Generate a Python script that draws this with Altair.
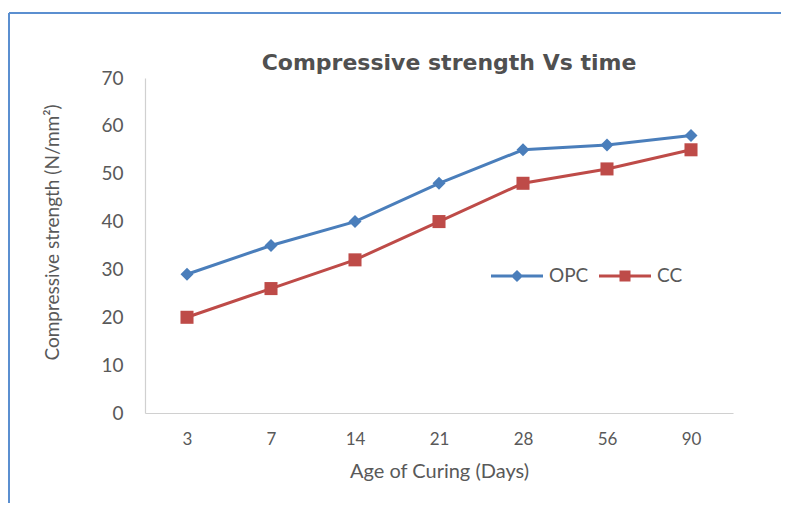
import altair as alt
import pandas as pd

days = ["3", "7", "14", "21", "28", "56", "90"]
opc = [29, 35, 40, 48, 55, 56, 58]
cc = [20, 26, 32, 40, 48, 51, 55]
series_names = ["OPC", "CC"]
colors = ["#4A7EBB", "#BE4B48"]
y_ticks = [0, 10, 20, 30, 40, 50, 60, 70]

rows = []
for d, a, b in zip(days, opc, cc):
    rows.append({"day": d, "series": "OPC", "value": a})
    rows.append({"day": d, "series": "CC", "value": b})
df = pd.DataFrame(rows)

FONT = "Lato"
GRAY = "#595959"

x = alt.X("day:O", sort=days, title="Age of Curing (Days)",
          axis=alt.Axis(labelAngle=0, ticks=False, domainColor="#D0D0D0", domainWidth=1.2,
                        labelFont=FONT, labelFontSize=17, labelColor=GRAY,
                        labelPadding=18, titleFont=FONT, titleFontSize=20,
                        titleColor=GRAY, titleFontWeight="normal", titlePadding=14))
y = alt.Y("value:Q", scale=alt.Scale(domain=[0, 70], nice=False),
          title="Compressive strength (N/mm²)",
          axis=alt.Axis(values=y_ticks, ticks=False, grid=False, domainColor="#D0D0D0", domainWidth=1.2,
                        labelFont=FONT, labelFontSize=19, labelColor=GRAY,
                        labelPadding=22, titleFont=FONT, titleFontSize=19,
                        titleColor=GRAY, titleFontWeight="normal", titlePadding=38,
                        titleY=154))
color_scale = alt.Scale(domain=series_names, range=colors)

lines = alt.Chart(df).mark_line(strokeWidth=3).encode(
    x=x, y=y, color=alt.Color("series:N", scale=color_scale, legend=None),
    detail="series:N")
points = alt.Chart(df).mark_point(filled=True, opacity=1, size=170).encode(
    x=x, y=y,
    color=alt.Color("series:N", scale=color_scale, legend=None),
    shape=alt.Shape("series:N", scale=alt.Scale(domain=series_names, range=["diamond", "square"]), legend=None))

diamond_path = ("M-2.6,-0.14H-0.46L0,-0.6L0.46,-0.14H2.6V0.14H0.46L0,0.6L-0.46,0.14H-2.6Z")
square_path = ("M-2.6,-0.14H-0.55V-0.55H0.55V-0.14H2.6V0.14H0.55V0.55H-0.55V0.14H-2.6Z")

legend_layer = alt.Chart(df).transform_filter("false").mark_point(filled=True, opacity=1, size=400).encode(
    x=x, y=y,
    color=alt.Color("series:N", scale=alt.Scale(domain=series_names, range=colors), legend=alt.Legend(
        orient="none", legendX=362, legendY=188, direction="horizontal", title=None,
        labelFont=FONT, labelFontSize=19, labelColor=GRAY,
        symbolStrokeWidth=0, labelOffset=22, columnPadding=10, symbolSize=400)),
    shape=alt.Shape("series:N", scale=alt.Scale(domain=series_names, range=[diamond_path, square_path])))

frame_top = alt.Chart(pd.DataFrame({"a": [0]})).mark_rule(color="#5B8FD0", strokeWidth=2).encode(
    x=alt.value(-136), x2=alt.value(660), y=alt.value(-65))
frame_left = alt.Chart(pd.DataFrame({"a": [0]})).mark_rule(color="#5B8FD0", strokeWidth=2).encode(
    x=alt.value(-136), y=alt.value(-65), y2=alt.value(440))

chart = alt.layer(frame_top, frame_left, lines, points, legend_layer).resolve_scale(
    color="independent", shape="independent"
).properties(
    width=588, height=335,
    padding={"left": 137, "top": 70, "right": 48, "bottom": 90},
    autosize=alt.AutoSizeParams(type="none"),
    background="white",
    title=alt.TitleParams("Compressive strength Vs time", font="DejaVu Sans", fontSize=22,
                          fontWeight="bold", color="#505050", anchor="middle", offset=8,
                          dy=71, dx=10),
).configure_view(stroke="white", strokeWidth=1)

chart.save("out.html", embed_options={"renderer": "svg", "actions": False})
